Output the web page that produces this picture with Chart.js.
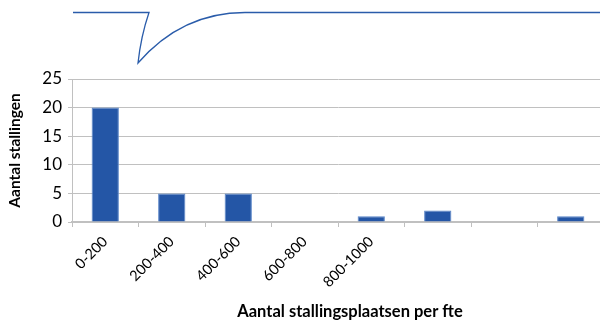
<!DOCTYPE html>
<html>
<head>
<meta charset="utf-8">
<script src="https://cdn.jsdelivr.net/npm/chart.js@4/dist/chart.umd.min.js"></script>
<style>
  html, body { margin: 0; padding: 0; background: #fff; overflow: hidden; }
  #wrap { width: 600px; height: 324px; overflow: hidden; }
  canvas { display: block; }
</style>
</head>
<body>
<div id="wrap"><canvas id="c" width="604" height="324"></canvas></div>
<script>
// Frequency of bicycle sheds by number of parking places per fte
const categories = ['0-200', '200-400', '400-600', '600-800', '800-1000', '', '', ''];
const stallingen = [20, 5, 5, 0, 1, 2, 0, 1];
const yTicks = [0, 5, 10, 15, 20, 25];
const xTitle = 'Aantal stallingsplaatsen per fte';
const yTitle = 'Aantal stallingen';

const barFill = '#2456a6';
const barEdge = '#5a86c8';
const gridGray = '#c0c0c0';

// Decorative callout line across the top, plus the horizontal axis caption
const decorPlugin = {
  id: 'decor',
  afterDraw(chart) {
    const ctx = chart.ctx;
    ctx.save();
    ctx.strokeStyle = '#2a5caa';
    ctx.lineWidth = 1.3;
    ctx.beginPath();
    ctx.moveTo(73, 12.5);
    ctx.lineTo(149, 12.5);
    ctx.quadraticCurveTo(141, 36, 138, 63);
    ctx.bezierCurveTo(165, 32, 200, 12.5, 245, 12.5);
    ctx.lineTo(604, 12.5);
    ctx.stroke();

    ctx.fillStyle = '#000';
    ctx.font = 'bold 16.5px Lato';
    ctx.textAlign = 'center';
    ctx.textBaseline = 'middle';
    ctx.fillText(xTitle, 350, 312);
    ctx.restore();
  }
};

new Chart(document.getElementById('c'), {
  type: 'bar',
  data: {
    labels: categories,
    datasets: [{
      data: stallingen,
      backgroundColor: barFill,
      borderColor: barEdge,
      borderWidth: 1,
      barPercentage: 0.41,
      categoryPercentage: 1
    }]
  },
  options: {
    responsive: false,
    animation: false,
    layout: { padding: { top: 79, left: 0, right: 0, bottom: 0 } },
    plugins: { legend: { display: false }, tooltip: { enabled: false } },
    scales: {
      x: {
        grid: {
          display: true,
          drawOnChartArea: false,
          offset: true,
          color: gridGray,
          tickLength: 5
        },
        border: { color: gridGray, width: 1.5 },
        ticks: {
          color: '#000',
          font: { family: 'Lato', size: 14.5 },
          maxRotation: 45,
          minRotation: 45,
          autoSkip: false,
          padding: 6
        },
        afterFit(scale) { scale.height = 102; }
      },
      y: {
        min: 0,
        max: 25,
        afterBuildTicks(scale) { scale.ticks = yTicks.map(v => ({ value: v })); },
        grid: { color: gridGray, tickLength: 4, lineWidth: 1 },
        border: { color: gridGray, width: 1 },
        ticks: {
          color: '#000',
          font: { family: 'Lato', size: 17 },
          padding: 6
        },
        title: {
          display: true,
          text: yTitle,
          color: '#000',
          font: { family: 'Lato', size: 15.5, weight: 'bold' },
          padding: { top: 6, bottom: 4 }
        },
        afterFit(scale) { scale.width = 72; }
      }
    }
  },
  plugins: [decorPlugin]
});
</script>
</body>
</html>
